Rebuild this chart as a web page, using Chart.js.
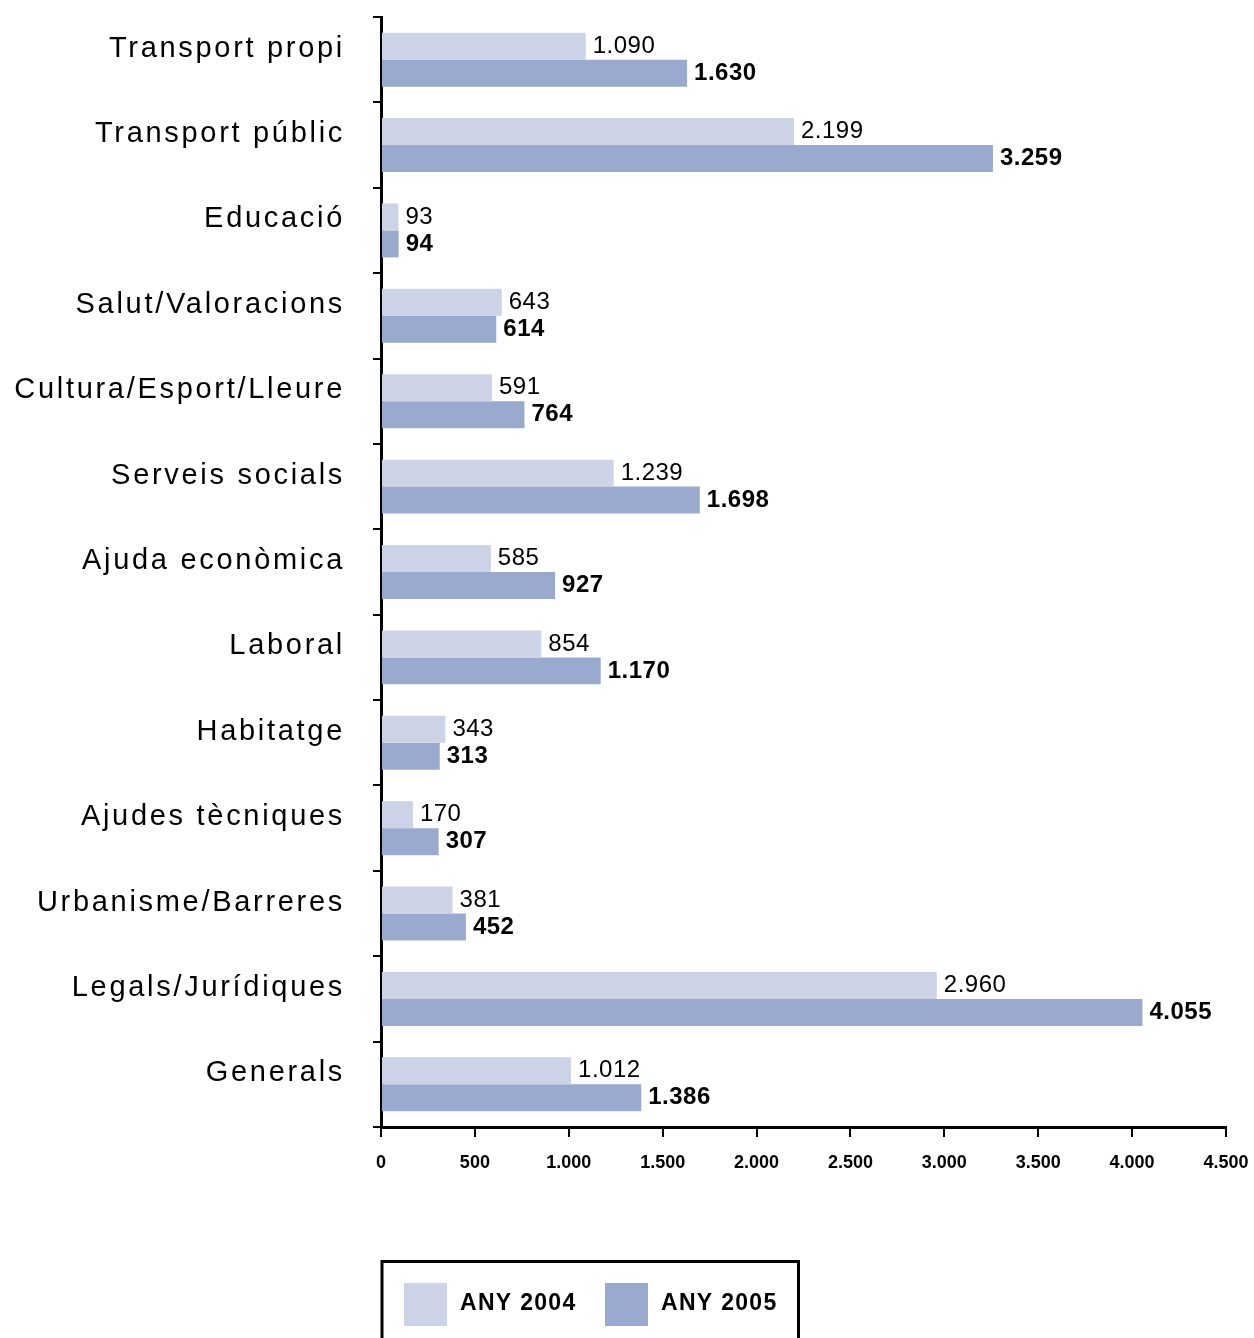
<!DOCTYPE html>
<html>
<head>
<meta charset="utf-8">
<script src="https://cdn.jsdelivr.net/npm/chart.js@4/dist/chart.umd.min.js"></script>
<style>
html,body{margin:0;padding:0;background:#fff;}
#wrap{width:1254px;height:1338px;position:relative;}
</style>
</head>
<body>
<div id="wrap"><canvas id="c" width="1254" height="1338"></canvas></div>
<script>
const categories = ["Transport propi","Transport públic","Educació","Salut/Valoracions","Cultura/Esport/Lleure","Serveis socials","Ajuda econòmica","Laboral","Habitatge","Ajudes tècniques","Urbanisme/Barreres","Legals/Jurídiques","Generals"];
const values2004 = [1090,2199,93,643,591,1239,585,854,343,170,381,2960,1012];
const values2005 = [1630,3259,94,614,764,1698,927,1170,313,307,452,4055,1386];
const seriesLabels = ["ANY 2004","ANY 2005"];
const xTicks = [0,500,1000,1500,2000,2500,3000,3500,4000,4500];

const fmt = v => String(v).replace(/\B(?=(\d{3})+(?!\d))/g, ".");

const valueLabels = {
  id: 'valueLabels',
  afterDatasetsDraw(chart) {
    const ctx = chart.ctx;
    chart.data.datasets.forEach((ds, di) => {
      const meta = chart.getDatasetMeta(di);
      ctx.save();
      ctx.font = (di === 1 ? 'bold ' : '') + '24px "Liberation Sans", Arial, sans-serif';
      ctx.letterSpacing = '0.5px';
      ctx.fillStyle = '#000';
      ctx.textAlign = 'left';
      ctx.textBaseline = 'middle';
      meta.data.forEach((el, i) => {
        ctx.fillText(fmt(ds.data[i]), el.x + 7, el.y);
      });
      ctx.restore();
    });
  }
};

const spacedY = {
  id: 'spacedY',
  beforeDraw(chart) {
    const y = chart.scales.y;
    if (y && !y._spaced) {
      const orig = y.drawLabels.bind(y);
      y.drawLabels = function(area) {
        const ctx = this.ctx;
        const prev = ctx.letterSpacing;
        ctx.letterSpacing = '2.7px';
        orig(area);
        ctx.letterSpacing = prev || '0px';
      };
      y._spaced = true;
    }
  }
};

const boxLegend = {
  id: 'boxLegend',
  afterDraw(chart) {
    const ctx = chart.ctx;
    ctx.save();
    ctx.strokeStyle = '#000';
    ctx.lineWidth = 3;
    ctx.beginPath();
    ctx.moveTo(382, 1345);
    ctx.lineTo(382, 1261.5);
    ctx.lineTo(798.5, 1261.5);
    ctx.lineTo(798.5, 1345);
    ctx.stroke();
    const xs = [404, 605];
    chart.data.datasets.forEach((ds, i) => {
      ctx.fillStyle = ds.backgroundColor;
      ctx.fillRect(xs[i], 1283, 43, 43);
      ctx.fillStyle = '#000';
      ctx.font = 'bold 23px "Liberation Sans", Arial, sans-serif';
      ctx.letterSpacing = '1.3px';
      ctx.textAlign = 'left';
      ctx.textBaseline = 'middle';
      ctx.fillText(ds.label, xs[i] + 56, 1304);
    });
    ctx.restore();
  }
};

new Chart(document.getElementById('c'), {
  type: 'bar',
  data: {
    labels: categories,
    datasets: [
      { label: seriesLabels[0], data: values2004, backgroundColor: '#CDD3E6', borderWidth: 0 },
      { label: seriesLabels[1], data: values2005, backgroundColor: '#9AAACE', borderWidth: 0 }
    ]
  },
  options: {
    indexAxis: 'y',
    responsive: false,
    animation: false,
    datasets: { bar: { categoryPercentage: 0.632, barPercentage: 1.0 } },
    layout: { padding: { left: 0, right: 28, top: 17, bottom: 151 } },
    plugins: { legend: { display: false }, tooltip: { enabled: false } },
    scales: {
      x: {
        type: 'linear',
        min: 0, max: 4500,
        afterBuildTicks(scale) { scale.ticks = xTicks.map(v => ({ value: v })); },
        afterFit(scale) { scale.height = 60; scale.paddingLeft = 0; scale.paddingRight = 0; },
        border: { display: true, color: '#000', width: 3 },
        grid: { drawOnChartArea: false, drawTicks: true, tickLength: 10, color: '#000', lineWidth: 2 },
        ticks: {
          autoSkip: false, maxRotation: 0,
          color: '#000', padding: 15,
          font: { family: '"Liberation Sans", Arial, sans-serif', size: 18, weight: 'bold' },
          callback: v => fmt(v)
        }
      },
      y: {
        afterFit(scale) { scale.width = 381; scale.paddingTop = 0; scale.paddingBottom = 0; },
        border: { display: true, color: '#000', width: 3 },
        grid: { drawOnChartArea: false, drawTicks: true, tickLength: 8, color: '#000', lineWidth: 2, offset: true },
        ticks: {
          autoSkip: false, color: '#000', padding: 28, labelOffset: -11,
          font: { family: '"Liberation Sans", Arial, sans-serif', size: 29 }
        }
      }
    }
  },
  plugins: [valueLabels, spacedY, boxLegend]
});
</script>
</body>
</html>
